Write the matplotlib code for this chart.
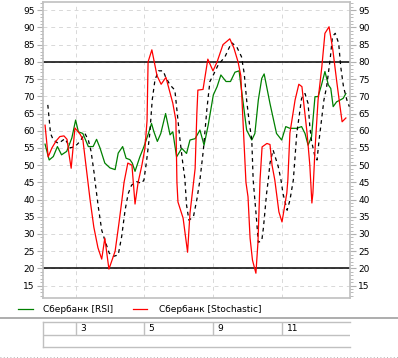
import matplotlib
matplotlib.use('Agg')
import matplotlib.pyplot as plt
from matplotlib.lines import Line2D

# ---------------- data (time in hourly bars) ----------------
rsi_t = [0.6, 1.8, 3.0, 4.2, 5.4, 6.9, 8.4, 9.5, 10.3, 11.6, 12.4, 13.2, 14.6, 15.6, 16.6,
         18.0, 19.5, 21.0, 21.9, 23.2, 24.2, 25.3, 26.0, 26.8, 28.2, 29.4, 30.7, 31.6, 32.3,
         33.3, 34.3, 35.7, 37.0, 37.8, 38.9, 40.4, 41.8, 42.8, 44.3, 45.7, 46.9, 48.1, 49.6,
         50.7, 51.8, 53.3, 54.6, 55.9, 57.1, 59.3, 60.8, 61.7, 62.7, 63.7, 64.4, 66.1, 68.0,
         69.5, 70.7, 71.9, 73.9, 75.3, 76.3, 77.2, 78.2, 79.2, 80.1, 81.1, 82.1, 83.1, 83.8,
         84.5, 85.5, 86.5, 87.4, 88.2]
rsi = [56.1, 51.5, 52.5, 55.4, 53.0, 54.0, 57.9, 63.1, 59.7, 59.2, 57.3, 55.4, 55.4, 57.5, 55.0,
       50.6, 49.2, 48.7, 53.5, 55.4, 52.0, 51.6, 50.6, 48.2, 52.4, 55.4, 59.2, 62.1, 59.7,
       56.9, 59.2, 65.0, 58.8, 59.7, 52.4, 54.9, 53.4, 57.3, 57.7, 60.2, 55.8, 61.6, 70.4,
       72.8, 76.2, 74.3, 74.3, 77.0, 77.4, 60.2, 57.3, 59.2, 68.9, 75.2, 76.5, 67.9, 59.2,
       57.3, 61.2, 60.7, 60.7, 61.2, 59.2, 55.8, 58.3, 69.9, 69.9, 73.3, 77.2, 73.3, 72.3,
       67.0, 68.4, 68.9, 69.4, 70.8]

stoch_t = [0.6, 1.5, 2.6, 3.8, 4.9, 6.1, 7.0, 7.6, 8.2, 9.3, 10.8, 11.6, 12.5, 13.1, 13.7,
           14.8, 16.0, 17.1, 18.0, 19.2, 21.0, 22.1, 23.0, 23.6, 24.7, 25.9, 26.8, 27.7, 28.8,
           29.7, 30.3, 30.6, 31.7, 33.2, 34.4, 35.8, 37.0, 37.8, 38.7, 39.0, 39.3, 40.8, 42.1,
           42.8, 44.3, 44.8, 45.1, 46.6, 48.0, 49.5, 50.7, 52.4, 54.4, 55.6, 56.8, 57.6, 59.1,
           59.7, 60.3, 61.0, 62.0, 62.6, 63.2, 63.8, 65.2, 66.1, 66.7, 67.5, 68.7, 69.6, 71.0,
           71.3, 71.9, 73.4, 74.5, 75.4, 76.9, 77.7, 78.3, 78.6, 79.2, 80.1, 81.2, 82.1, 83.3,
           84.4, 85.6, 86.5, 87.1, 88.2]
stoch_k = [61.6, 52.4, 55.0, 57.0, 58.3, 58.5, 57.5, 53.0, 49.1, 60.8, 59.0, 57.5, 50.0, 45.0, 40.0,
           32.0, 26.0, 22.7, 28.8, 19.8, 25.0, 33.0, 40.0, 45.0, 50.6, 50.0, 38.7, 45.0, 50.0,
           55.0, 63.0, 80.0, 83.5, 76.0, 73.5, 75.5, 71.0, 68.0, 63.0, 45.0, 39.3, 34.6, 24.7,
           36.0, 49.0, 65.0, 71.8, 72.0, 80.8, 77.4, 80.0, 85.0, 86.7, 84.0, 80.0, 76.0, 45.0,
           40.8, 28.8, 22.4, 18.6, 27.6, 45.7, 55.3, 56.3, 56.0, 50.0, 45.7, 36.4, 33.5, 41.9,
           45.7, 59.3, 68.9, 73.5, 72.8, 59.3, 50.0, 39.0, 41.9, 54.4, 68.9, 78.6, 88.3, 90.2,
           83.5, 73.8, 67.0, 62.6, 63.7]

signal_t = [1.4, 2.2, 3.0, 4.5, 6.4, 7.9, 9.3, 10.8, 12.2, 13.2, 14.0, 14.9, 15.1, 16.1, 17.1,
            18.0, 19.3, 20.5, 21.9, 22.9, 23.9, 24.8, 25.8, 27.3, 28.7, 29.4, 30.2, 31.1, 31.8,
            32.6, 33.6, 35.0, 35.7, 37.0, 38.4, 39.1, 39.9, 40.7, 41.3, 41.8, 42.5, 43.8, 44.8,
            45.7, 46.7, 47.7, 48.6, 49.6, 51.0, 53.0, 54.9, 56.4, 57.8, 58.6, 59.3, 60.1, 60.8,
            61.2, 62.2, 62.7, 63.7, 64.2, 65.1, 65.6, 66.1, 67.0, 68.5, 69.3, 69.9, 71.1, 71.9,
            72.9, 73.9, 75.3, 76.3, 77.2, 77.7, 78.2, 79.2, 79.8, 80.4, 81.1, 81.8, 82.6, 83.6,
            84.3, 85.1, 86.1, 86.7, 87.5, 88.5, 89.2]
stoch_d = [67.5, 59.2, 57.3, 56.3, 57.7, 55.0, 55.4, 56.9, 59.2, 57.3, 54.0, 47.6, 45.7, 37.9, 31.1,
           28.2, 24.4, 23.5, 23.9, 29.2, 36.9, 41.7, 44.2, 45.2, 44.7, 45.7, 51.5, 59.2, 68.9,
           74.7, 77.4, 77.4, 75.6, 73.3, 71.8, 65.0, 57.3, 50.6, 46.2, 38.4, 34.0, 35.0, 40.0,
           45.7, 54.4, 66.0, 74.3, 76.2, 79.1, 81.5, 85.6, 84.4, 81.5, 76.6, 68.9, 62.1, 57.3,
           45.7, 34.0, 27.6, 28.0, 31.9, 41.7, 45.7, 50.6, 54.4, 49.6, 45.7, 41.7, 36.9, 39.8,
           45.7, 59.2, 69.4, 70.8, 67.9, 61.2, 57.0, 52.4, 51.5, 57.3, 63.1, 68.9, 72.8, 80.6,
           87.4, 88.3, 85.4, 78.6, 72.8, 68.9, 67.0]

day_pos = [9.5, 29.5, 49.6, 69.7]
day_labels = ['3', '5', '9', '11']
levels = [20, 80]

plt.rcParams['font.family'] = ['DejaVu Sans']
plt.rcParams['font.size'] = 6

W, H = 398, 358
fig = plt.figure(figsize=(W / 100, H / 100), dpi=100)
ax = fig.add_axes([43 / W, 1 - 298 / H, 307 / W, 296 / H])

# ---------------- lines ----------------
for lv in levels:
    ax.axhline(lv, color='black', lw=1.1, zorder=2)
ax.plot(rsi_t, rsi, color='#008000', lw=0.9, zorder=3)
ax.plot(signal_t, stoch_d, color='black', lw=0.9, linestyle=(0, (3, 3)), zorder=3)
ax.plot(stoch_t, stoch_k, color='#ff0000', lw=0.9, zorder=4)

# ---------------- axes ----------------
ax.set_xlim(0, 89.4)
ax.set_ylim(11.4, 97.4)
ax.set_yticks(range(15, 96, 5))
ax.set_yticks(range(12, 98), minor=True)
ax.set_xticks(day_pos)
ax.set_xticklabels([])
ax.tick_params(axis='x', length=0)
ax.tick_params(axis='y', which='both', left=True, right=True, labelleft=True, labelright=True,
               color='#b0b0b0', labelsize=6.5, pad=1.5)
ax.tick_params(axis='y', which='major', length=4.5)
ax.tick_params(axis='y', which='minor', length=2.2)
ax.grid(which='major', color='#d8d8d8', linestyle=(0, (4, 4)), lw=0.7, zorder=0)
for s in ax.spines.values():
    s.set_color('#c0c0c0')
    s.set_linewidth(1.2)

# ---------------- legend ----------------
ly = 1 - 309 / H
fig.add_artist(Line2D([18 / W, 33 / W], [ly, ly], color='#008000', lw=0.9))
fig.text(43 / W, ly, 'Сбербанк [RSI]', va='center', fontsize=6.5)
fig.add_artist(Line2D([133 / W, 147 / W], [ly, ly], color='#ff0000', lw=0.9))
fig.text(159 / W, ly, 'Сбербанк [Stochastic]', va='center', fontsize=6.5)

# separator
fig.add_artist(Line2D([0, 1], [1 - 318 / H] * 2, color='#a0a0a0', lw=1.2))
fig.add_artist(Line2D([0, 1], [1 - 357 / H] * 2, color='#a0a0a0', lw=0.6, linestyle=(0, (1, 3))))

# ---------------- date table ----------------
tax = fig.add_axes([43 / W, 1 - 347 / H, 307 / W, 25 / H])
tax.set_xlim(ax.get_xlim())
tax.set_ylim(0, 2)
tax.axhline(1, color='#c0c0c0', lw=1.0)
tax.vlines(day_pos, 1, 2, color='#c0c0c0', lw=1.0)
for p, lbl in zip(day_pos, day_labels):
    tax.annotate(lbl, (p, 1.5), xytext=(3.2, 0), textcoords='offset points',
                 va='center', fontsize=6.5)
tax.set_xticks([])
tax.set_yticks([])
tax.spines['right'].set_visible(False)
for s in ['left', 'top', 'bottom']:
    tax.spines[s].set_color('#c0c0c0')
    tax.spines[s].set_linewidth(1.0)

fig.savefig('out.png', dpi=100)
